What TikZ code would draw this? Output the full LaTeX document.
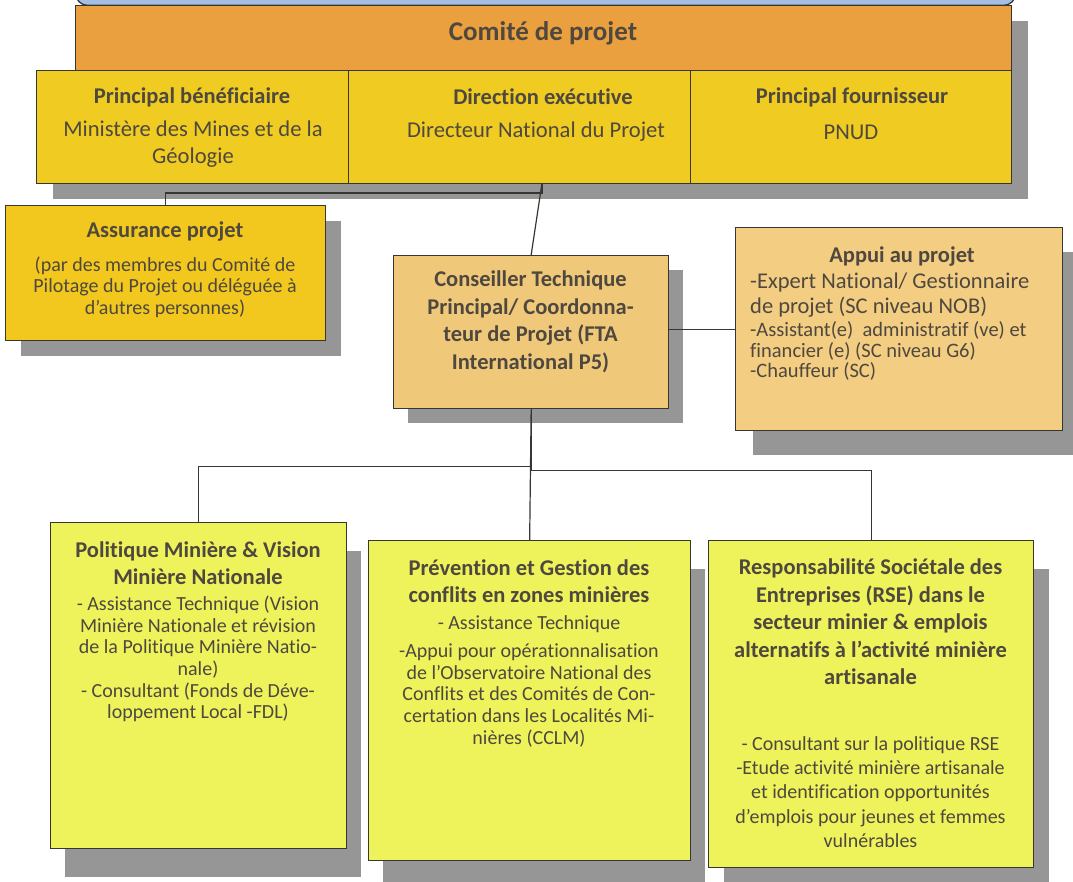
\documentclass[tikz,border=0pt]{standalone}
\usepackage{fontspec}
\setmainfont{Carlito}[Ligatures={NoCommon}]
\usetikzlibrary{shadows, calc}

\definecolor{bleuclair}{RGB}{165,190,228}
\definecolor{orangecp}{RGB}{234,160,62}
\definecolor{jaunefort}{RGB}{240,204,34}
\definecolor{jauneassur}{RGB}{242,200,30}
\definecolor{beige}{RGB}{240,200,122}
\definecolor{beigeclair}{RGB}{243,205,130}
\definecolor{citron}{RGB}{238,243,92}
\definecolor{ombre}{RGB}{150,150,150}
\definecolor{bordure}{RGB}{55,55,50}
\definecolor{encre}{RGB}{78,72,62}

\newcommand{\ftete}{\bfseries\fontsize{22.5}{27.5}\selectfont}
\newcommand{\fcorpsg}{\fontsize{22.6}{27}\selectfont}
\newcommand{\fcorps}{\fontsize{20}{21.6}\selectfont}

\tikzstyle{cadre} = [rectangle, anchor=north west, inner sep=0pt, draw=bordure, line width=1.3pt]
\tikzstyle{lien} = [line width=1.2pt, draw=bordure]
\tikzstyle{texte} = [align=center, inner sep=0pt, text=encre]
\tikzset{ombree/.style 2 args={drop shadow={shadow xshift=#1, shadow yshift=-#2, fill=ombre, opacity=1}}}

\begin{document}
\begin{tikzpicture}[x=1pt, y=-1pt]
  \path[use as bounding box, fill=white] (0,0) rectangle (1073,881);

  % Comité de projet (haut)
  \node[cadre, anchor=south west, fill=bleuclair, rounded corners=12pt, minimum width=940pt, minimum height=40pt] (bleu) at (75,6) {};
  \node[cadre, ombree={16pt}{15pt}, fill=orangecp, minimum width=936pt, minimum height=65pt] (comite) at (75,5) {};
  \node[texte, font=\bfseries\fontsize{27}{32}\selectfont] (tcomite) at (543,33) {Comité de projet};

  % Ligne des trois membres
  \node[cadre, ombree={16pt}{15pt}, fill=jaunefort, minimum width=312pt, minimum height=113pt] (benef) at (36,70) {};
  \node[cadre, ombree={16pt}{15pt}, fill=jaunefort, minimum width=342pt, minimum height=113pt] (direx) at (348,70) {};
  \node[cadre, ombree={16pt}{15pt}, fill=jaunefort, minimum width=321pt, minimum height=113pt] (fourn) at (690,70) {};

  \node[texte, font=\ftete] (tbenef) at (192,97) {Principal bénéficiaire};
  \node[texte, font=\fcorpsg] (cbenef) at (193,144) {Ministère des Mines et de la\\Géologie};
  \node[texte, font=\ftete] (tdirex) at (543,97) {Direction exécutive};
  \node[texte, font=\fcorpsg] (cdirex) at (536,132) {Directeur National du Projet};
  \node[texte, font=\ftete] (tfourn) at (852,97) {Principal fournisseur};
  \node[texte, font=\fcorpsg] (cfourn) at (851,132) {PNUD};

  % Niveau intermédiaire
  \node[cadre, ombree={15pt}{15pt}, fill=jauneassur, minimum width=320pt, minimum height=135pt] (assur) at (5,205) {};
  \node[texte, font=\ftete] (tassur) at (165,232) {Assurance projet};
  \node[texte, font=\fcorps] (cassur) at (165,287) {(par des membres du Comité de\\Pilotage du Projet ou déléguée à\\d'autres personnes)};

  \node[cadre, ombree={14pt}{14pt}, fill=beige, minimum width=275pt, minimum height=153pt] (ctp) at (393,255) {};
  \node[texte, font=\ftete] (tctp) at (530.5,322) {Conseiller Technique\\Principal/ Coordonna-\\teur de Projet (FTA\\International P5)};

  \node[cadre, ombree={17pt}{24pt}, fill=beigeclair, minimum width=327pt, minimum height=203pt] (appui) at (735,227) {};
  \node[texte, font=\ftete] (tappui) at (902,257) {Appui au projet};
  \node[texte, align=left, anchor=west, font=\fontsize{22.5}{24.5}\selectfont] (cappui1) at (750,295) {-Expert National/ Gestionnaire\\de projet (SC niveau NOB)};
  \node[texte, align=left, anchor=west, font=\fontsize{20.5}{20.5}\selectfont] (cappui2) at (750,351) {-Assistant(e)\ \ administratif (ve) et\\financier (e) (SC niveau G6)\\-Chauffeur (SC)};

  % Trois axes
  \node[cadre, ombree={14pt}{28pt}, fill=citron, minimum width=296pt, minimum height=326pt] (pmv) at (50,522) {};
  \node[texte, font=\ftete] (tpmv) at (198,563) {Politique Minière \& Vision\\Minière Nationale};
  \node[texte, font=\fcorps] (cpmv) at (198,659) {- Assistance Technique (Vision\\Minière Nationale et révision\\de la Politique Minière Natio-\\nale)\\- Consultant (Fonds de Déve-\\loppement Local -FDL)};

  \node[cadre, ombree={14pt}{28pt}, fill=citron, minimum width=322pt, minimum height=320pt] (pgc) at (368,540) {};
  \node[texte, font=\ftete] (tpgc) at (529,581) {Prévention et Gestion des\\conflits en zones minières};
  \node[texte, font=\fcorps] (cpgc) at (529,681) {- Assistance Technique\\[7pt]-Appui pour opérationnalisation\\de l’Observatoire National des\\Conflits et des Comités de Con-\\certation dans les Localités Mi-\\nières (CCLM)};

  \node[cadre, ombree={15pt}{28pt}, fill=citron, minimum width=325pt, minimum height=327pt] (rse) at (708,540) {};
  \node[texte, font=\ftete] (trse) at (870.5,622) {Responsabilité Sociétale des\\Entreprises (RSE) dans le\\secteur minier \& emplois\\alternatifs à l’activité minière\\artisanale};
  \node[texte, font=\fontsize{20}{24.2}\selectfont] (crse) at (870.5,792) {- Consultant sur la politique RSE\\-Etude activité minière artisanale\\et identification opportunités\\d’emplois pour jeunes et femmes\\vulnérables};

  % Liaisons
  \coordinate (dirbas) at (542,183);
  \draw[lien] (dirbas) -- (ctp.north);
  \draw[lien] (dirbas) -- ++(0,10) -| (assur.north);
  \draw[lien] (appui.west) -- (appui.west -| ctp.east);
  \draw[lien] (ctp.south) -- ++(0,57) -| (pmv.north);
  \draw[lien] (ctp.south) -- (pgc.north);
  \draw[lien] (ctp.south) -- ++(0,61) -| (rse.north);
\end{tikzpicture}
\end{document}
